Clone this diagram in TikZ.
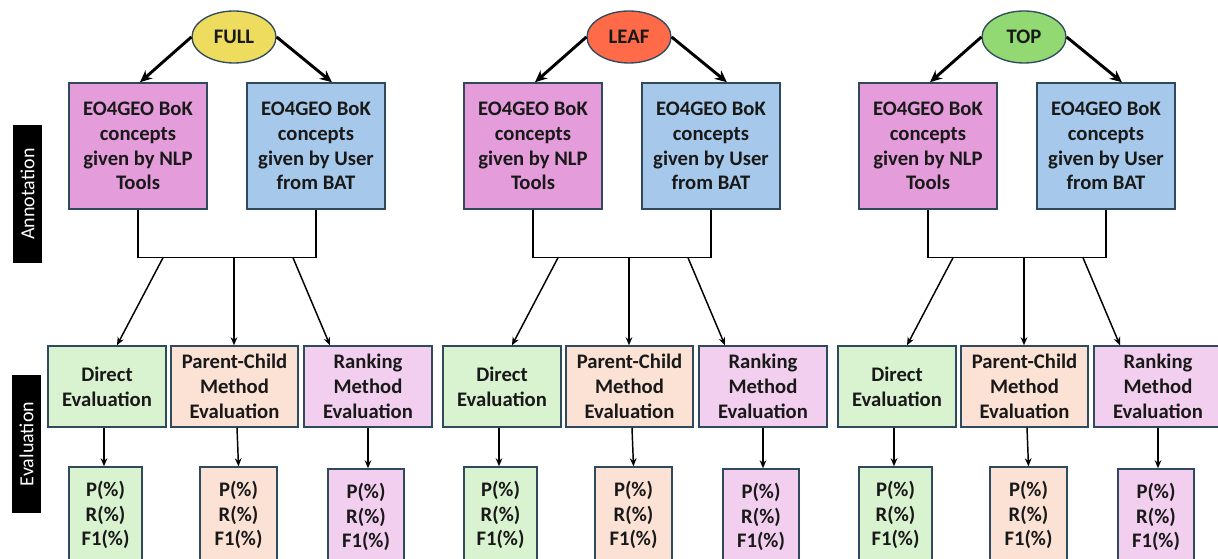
\documentclass[tikz,border=0pt]{standalone}
\usepackage{fontspec}
\setmainfont{Carlito}
\usetikzlibrary{calc,arrows.meta,shapes.geometric}
\definecolor{bord}{HTML}{2E4A5C}
\definecolor{cyel}{HTML}{EEDC5E}
\definecolor{cleaf}{HTML}{FF6A48}
\definecolor{ctop}{HTML}{92D873}
\definecolor{cpink}{HTML}{E59CDB}
\definecolor{cblue}{HTML}{A6C9EB}
\definecolor{cgreen}{HTML}{D9F2D0}
\definecolor{cpeach}{HTML}{FBE2D5}
\definecolor{clilac}{HTML}{F2CEEF}
\tikzset{
  txt/.style={font=\fontsize{15.5}{18.6}\selectfont\bfseries, align=center, text=black!90},
  ell/.style={ellipse, draw=bord, line width=1pt, minimum width=63pt, minimum height=39pt, inner sep=0pt, txt},
  conbox/.style={draw=bord, line width=1.1pt, minimum width=103.5pt, minimum height=94.5pt, inner sep=0pt, txt},
  evbox/.style={draw=bord, line width=1.1pt, minimum height=60.75pt, inner sep=0pt, txt},
  resbox/.style={draw=bord, line width=1.1pt, minimum height=72pt, inner sep=0pt, txt},
  side/.style={fill=black, minimum width=21.75pt, minimum height=103.5pt, inner sep=0pt, text=white, font=\fontsize{15}{18}\selectfont, rotate=90},
  thickarr/.style={line width=2.2pt, -{Stealth[length=9pt,width=8pt]}},
  thinarr/.style={line width=1.1pt, -{Stealth[length=6pt,width=5pt]}},
  brk/.style={line width=1.1pt}
}
\begin{document}
\begin{tikzpicture}[x=0.75pt,y=-0.75pt]
\useasboundingbox (0,0) rectangle (1218,559);
\node[side, minimum width=103.5pt, minimum height=21.75pt] (annot) at (27.5,194) {Annotation};
\node[side, minimum width=103.5pt, minimum height=21.75pt] (evall) at (26.5,444) {Evaluation};
\foreach \o/\lab/\col [count=\i] in {0/FULL/cyel, 395/LEAF/cleaf, 790/TOP/ctop} {
  \node[ell, fill=\col] (root\i) at (234+\o,37) {\lab};
  \node[conbox, fill=cpink] (nlp\i) at (138+\o,146) {EO4GEO BoK\\concepts\\given by NLP\\Tools};
  \node[conbox, fill=cblue] (usr\i) at (316+\o,146) {EO4GEO BoK\\concepts\\given by User\\from BAT};
  \node[evbox, fill=cgreen, minimum width=88.5pt] (dir\i) at (107+\o,386.5) {Direct\\Evaluation};
  \node[evbox, fill=cpeach, minimum width=95.25pt] (pc\i) at (234.5+\o,386.5) {Parent-Child\\Method\\Evaluation};
  \node[evbox, fill=clilac, minimum width=96pt] (rk\i) at (368+\o,386.5) {Ranking\\Method\\Evaluation};
  \node[resbox, fill=cgreen, minimum width=54.75pt] (rdir\i) at (105.5+\o,515) {P(\%)\\R(\%)\\F1(\%)};
  \node[resbox, fill=cpeach, minimum width=57.75pt] (rpc\i) at (238.5+\o,515) {P(\%)\\R(\%)\\F1(\%)};
  \node[resbox, fill=clilac, minimum width=57pt] (rrk\i) at (366+\o,517) {P(\%)\\R(\%)\\F1(\%)};
  \draw[thickarr] (root\i.west) -- ($(nlp\i.north)+(2,0)$);
  \draw[thickarr] (root\i.east) -- ($(usr\i.north)+(16,0)$);
  \draw[brk] (nlp\i.south) -- ++(0,48) coordinate (bl\i) -| (usr\i.south);
  \coordinate (bm\i) at ($(bl\i)+(96,0)$);
  \draw[thinarr] ($(bl\i)+(25,0)$) -- ($(dir\i.north)+(10,0)$);
  \draw[thinarr] (bm\i) -- (bm\i |- pc\i.north);
  \draw[thinarr] ($(bl\i)+(155,0)$) -- ($(rk\i.north)+(-38,0)$);
  \draw[thinarr] ($(dir\i.south)+(-3,0)$) -- ($(rdir\i.north)+(-1.5,0)$);
  \draw[thinarr] ($(pc\i.south)+(2.5,0)$) -- (rpc\i.north);
  \draw[thinarr] (rk\i.south) -- ($(rrk\i.north)+(2,0)$);
}
\end{tikzpicture}
\end{document}
